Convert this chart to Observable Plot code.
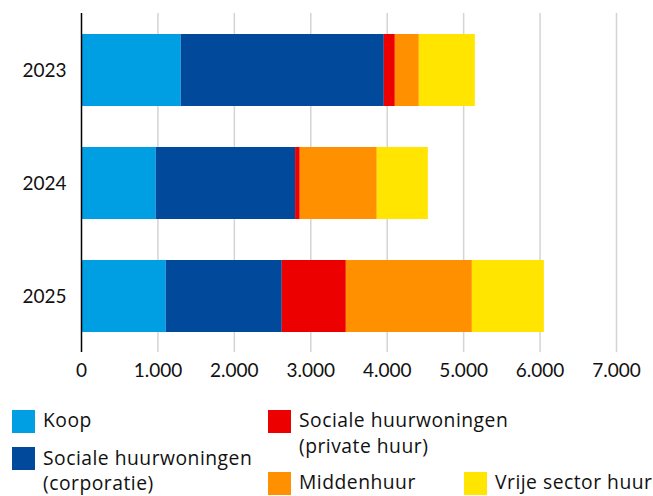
<!DOCTYPE html>
<html>
<head>
<meta charset="utf-8">
<script src="https://cdn.jsdelivr.net/npm/d3@7"></script>
<script src="https://cdn.jsdelivr.net/npm/@observablehq/plot@0.6"></script>
<style>
  html, body { margin: 0; padding: 0; background: #fff; }
  #wrap { position: relative; width: 653px; height: 496px; font-family: Lato, sans-serif; color: #111; overflow: hidden; }
  #chart { position: absolute; left: 0; top: 0; }
  .sw { position: absolute; width: 23px; height: 23px; }
  .tx { position: absolute; font-family: "Open Sans", sans-serif; font-size: 19.3px; letter-spacing: 0.5px; line-height: 26px; white-space: nowrap; }
</style>
</head>
<body>
<div id="wrap">
  <div id="chart"></div>
  <div id="legend"></div>
</div>
<script>
const years = ["2023", "2024", "2025"];
const categories = [
  "Koop",
  "Sociale huurwoningen (corporatie)",
  "Sociale huurwoningen (private huur)",
  "Middenhuur",
  "Vrije sector huur"
];
const colors = ["#009fe3", "#01499a", "#ec0000", "#ff9100", "#ffe500"];
const koop        = [1305, 978, 1109];
const corporatie  = [2657, 1823, 1518];
const privateHuur = [144, 61, 838];
const middenhuur  = [314, 1008, 1649];
const vrijeSector = [733, 668, 942];
const xTicks = [0, 1000, 2000, 3000, 4000, 5000, 6000, 7000];

const series = [koop, corporatie, privateHuur, middenhuur, vrijeSector];
const rows = years.flatMap((y, i) =>
  categories.map((c, k) => ({ year: y, category: c, value: series[k][i] }))
);

const fmt = d => d3.format(",")(d).replace(/,/g, ".");

const plot = Plot.plot({
  width: 653,
  height: 400,
  marginLeft: 81,
  marginRight: 37,
  marginTop: 13,
  marginBottom: 48,
  style: { fontFamily: "Lato, sans-serif", fontSize: "19px", color: "#111", background: "transparent" },
  x: { domain: [0, 7000], ticks: xTicks, label: null },
  y: { domain: years, paddingInner: 0.363, paddingOuter: 0.1815, label: null },
  color: { domain: categories, range: colors },
  marks: [
    Plot.gridX(xTicks.slice(1), { stroke: "#d4d4d4", strokeOpacity: 1, strokeWidth: 1.5 }),
    Plot.barX(rows, Plot.stackX({ x: "value", y: "year", fill: "category", order: categories })),
    Plot.axisX({ ticks: xTicks, tickSize: 0, tickPadding: 11, tickFormat: fmt, label: null, fontSize: 19 }),
    Plot.axisY({ tickSize: 0, tickPadding: 15, label: null, fontSize: 19 }),
    Plot.ruleX([0], { stroke: "#000", strokeWidth: 1.5 }),
    Plot.ruleY([0], { stroke: "#000", strokeWidth: 1.5 })
  ]
});
document.getElementById("chart").appendChild(plot);

// Legend
const legendLayout = [
  { k: 0, sx: 12, sy: 410, tx: 43, ty: 407, lh: 26, lines: ["Koop"] },
  { k: 1, sx: 12, sy: 447, tx: 43, ty: 445, lh: 25, lines: ["Sociale huurwoningen", "(corporatie)"] },
  { k: 2, sx: 268, sy: 410, tx: 299, ty: 407, lh: 26, lines: ["Sociale huurwoningen", "(private huur)"] },
  { k: 3, sx: 268, sy: 472, tx: 299, ty: 471, lh: 22, lines: ["Middenhuur"] },
  { k: 4, sx: 464, sy: 472, tx: 495, ty: 471, lh: 22, lines: ["Vrije sector huur"] }
];
const legend = document.getElementById("legend");
for (const it of legendLayout) {
  const sw = document.createElement("div");
  sw.className = "sw";
  sw.style.left = it.sx + "px";
  sw.style.top = it.sy + "px";
  sw.style.background = colors[it.k];
  legend.appendChild(sw);
  const tx = document.createElement("div");
  tx.className = "tx";
  tx.style.left = it.tx + "px";
  tx.style.top = it.ty + "px";
  tx.style.lineHeight = it.lh + "px";
  tx.innerHTML = it.lines.join("<br>");
  legend.appendChild(tx);
}
</script>
</body>
</html>
